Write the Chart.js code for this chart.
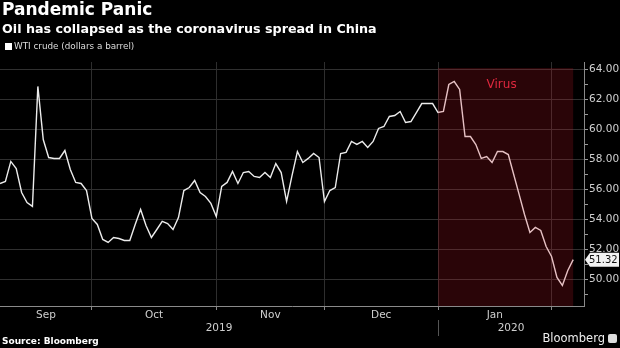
<!DOCTYPE html>
<html>
<head>
<meta charset="utf-8">
<title>Pandemic Panic</title>
<script src="https://cdn.jsdelivr.net/npm/chart.js"></script>
<style>
    html, body { margin: 0; padding: 0; background: #000; }
    #wrap { position: relative; width: 620px; height: 348px; overflow: hidden; font-family: "DejaVu Sans", sans-serif; color: #fff; }
    #chartCanvas { position: absolute; left: 0; top: 0; }
    .title { position: absolute; left: 2px; top: -1px; font-size: 17px; font-weight: bold; white-space: nowrap; }
    .subtitle { position: absolute; left: 2px; top: 21px; font-size: 12.7px; font-weight: bold; white-space: nowrap; }
    .legend { position: absolute; left: 5px; top: 41px; font-size: 8.8px; color: #ddd; white-space: nowrap; }
    .legend i { display: inline-block; width: 7px; height: 7px; background: #fff; margin-right: 2px; vertical-align: -1px; }
    .source { position: absolute; left: 2px; top: 336px; font-size: 9px; font-weight: bold; white-space: nowrap; }
    .brand { position: absolute; right: 3px; top: 331px; font-size: 11.5px; color: #eee; white-space: nowrap; }
    .brand i { display: inline-block; width: 9px; height: 9px; background: #ddd; border-radius: 2px; margin-left: 3px; vertical-align: -1px; }
</style>
</head>
<body>
<div id="wrap">
    <canvas id="chartCanvas" width="620" height="348"></canvas>
    <div class="title">Pandemic Panic</div>
    <div class="subtitle">Oil has collapsed as the coronavirus spread in China</div>
    <div class="legend"><i></i>WTI crude (dollars a barrel)</div>
    <div class="source">Source: Bloomberg</div>
    <div class="brand">Bloomberg<i></i></div>
</div>
<script>
    // WTI daily closes, one per trading day
    var prices = [
        56.40, 56.53, 57.87, 57.40, 55.80, 55.13, 54.87, 62.87, 59.33, 58.13,
        58.07, 58.07, 58.60, 57.33, 56.47, 56.40, 55.93, 54.07, 53.67, 52.67,
        52.47, 52.80, 52.73, 52.60, 52.60, 53.67, 54.67, 53.60, 52.80, 53.33,
        53.87, 53.73, 53.33, 54.13, 55.93, 56.13, 56.60, 55.80, 55.53, 55.07,
        54.20, 56.20, 56.47, 57.20, 56.40, 57.13, 57.20, 56.87, 56.80, 57.13,
        56.80, 57.73, 57.13, 55.20, 56.93, 58.53, 57.80, 58.07, 58.40, 58.13,
        55.20, 55.93, 56.13, 58.40, 58.47, 59.20, 59.00, 59.20, 58.80, 59.20,
        60.07, 60.20, 60.87, 60.93, 61.20, 60.47, 60.53, 61.13, 61.73, 61.73,
        61.73, 61.13, 61.20, 63.00, 63.20, 62.67, 59.53, 59.53, 59.00, 58.07,
        58.20, 57.80, 58.53, 58.53, 58.33, 57.00, 55.67, 54.33, 53.13, 53.47,
        53.27, 52.20, 51.53, 50.13, 49.60, 50.60, 51.32
    ];

    // first trading day of each month (index into prices)
    var monthStarts = [0, 17, 40, 60, 81, 102];
    var monthNames = ['Sep', 'Oct', 'Nov', 'Dec', 'Jan'];
    var yearNames = ['2019', '2020'];
    var yearStarts = [0, 81, 108];
    var virusWindow = [81, 106];
    var yTicks = [49, 50, 51, 52, 53, 54, 55, 56, 57, 58, 59, 60, 61, 62, 63, 64];

    var points = prices.map(function(v, i) { return { x: i, y: v }; });

    var overlay = {
        id: 'overlay',
        afterDatasetsDraw: function(chart) {
            var c = chart.ctx, xs = chart.scales.x, ys = chart.scales.y, area = chart.chartArea;
            var x0 = xs.getPixelForValue(virusWindow[0]);
            var x1 = xs.getPixelForValue(virusWindow[1]);
            var top = ys.getPixelForValue(64.1);
            c.save();
            c.fillStyle = 'rgba(210, 25, 40, 0.2)';
            c.fillRect(x0, top, x1 - x0, area.bottom - top);
            c.fillStyle = '#e0283e';
            c.font = '12px "DejaVu Sans"';
            c.textAlign = 'center';
            c.textBaseline = 'middle';
            c.fillText('Virus', (x0 + x1) / 2 - 4, top + 17);
            c.restore();
        },
        afterDraw: function(chart) {
            var c = chart.ctx, xs = chart.scales.x, ys = chart.scales.y, area = chart.chartArea;
            c.save();
            c.fillStyle = '#cfcfcf';
            c.font = '10.5px "DejaVu Sans"';
            c.textAlign = 'center';
            c.textBaseline = 'middle';
            for (var i = 0; i < monthNames.length; i++) {
                var mx = xs.getPixelForValue((monthStarts[i] + monthStarts[i + 1]) / 2);
                c.fillText(monthNames[i], mx, area.bottom + 9);
            }
            for (var j = 0; j < yearNames.length; j++) {
                var yx = xs.getPixelForValue((yearStarts[j] + yearStarts[j + 1]) / 2);
                c.fillText(yearNames[j], yx, area.bottom + 22);
            }
            // year divider
            var dx = Math.round(xs.getPixelForValue(yearStarts[1])) + 0.5;
            c.strokeStyle = '#555';
            c.lineWidth = 1;
            c.beginPath();
            c.moveTo(dx, area.bottom + 14);
            c.lineTo(dx, area.bottom + 30);
            c.stroke();

            // last value tag
            var last = prices[prices.length - 1];
            var ty = ys.getPixelForValue(last);
            var tx = area.right + 1;
            c.fillStyle = '#f2f2f2';
            c.beginPath();
            c.moveTo(tx, ty);
            c.lineTo(tx + 5, ty - 7);
            c.lineTo(619, ty - 7);
            c.lineTo(619, ty + 7);
            c.lineTo(tx + 5, ty + 7);
            c.closePath();
            c.fill();
            c.fillStyle = '#111';
            c.font = '10px "DejaVu Sans"';
            c.textAlign = 'left';
            c.fillText(last.toFixed(2), tx + 4, ty + 0.5);
            c.restore();
        }
    };

    var ctx = document.getElementById('chartCanvas').getContext('2d');
    var chart = new Chart(ctx, {
        type: 'line',
        data: {
            datasets: [{
                data: points,
                borderColor: '#ececec',
                borderWidth: 1.4,
                pointRadius: 0,
                tension: 0
            }]
        },
        options: {
            responsive: false,
            animation: false,
            layout: { padding: { top: 62, left: 0, right: 0, bottom: 0 } },
            plugins: {
                legend: { display: false },
                tooltip: { enabled: false }
            },
            scales: {
                x: {
                    type: 'linear',
                    min: 0,
                    max: 108,
                    afterBuildTicks: function(scale) {
                        scale.ticks = monthStarts.slice(1).map(function(v) { return { value: v }; });
                    },
                    afterFit: function(scale) { scale.height = 42; },
                    ticks: { display: false },
                    grid: { color: '#2e2e2e', tickLength: 4, tickColor: '#888' },
                    border: { color: '#8a8a8a' }
                },
                y: {
                    position: 'right',
                    min: 48.23,
                    max: 64.5,
                    afterBuildTicks: function(scale) {
                        scale.ticks = yTicks.map(function(v) { return { value: v }; });
                    },
                    afterFit: function(scale) { scale.width = 36; },
                    ticks: {
                        color: '#d0d0d0',
                        font: { family: 'DejaVu Sans', size: 10.5 },
                        padding: 1,
                        callback: function(v) { return v % 2 === 0 ? v.toFixed(2) : ''; }
                    },
                    grid: {
                        color: function(c) { return c.tick && c.tick.value % 2 === 0 ? '#303030' : 'rgba(0,0,0,0)'; },
                        tickColor: '#999',
                        tickLength: 4
                    },
                    border: { color: '#8a8a8a' }
                }
            }
        },
        plugins: [overlay]
    });
</script>
</body>
</html>
